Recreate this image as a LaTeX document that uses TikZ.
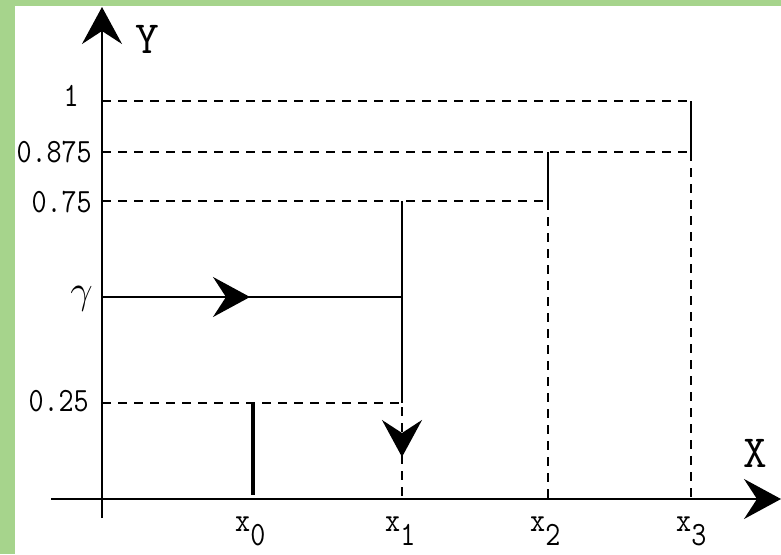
\documentclass[tikz,border=0pt]{standalone}
\usepackage{fontspec}
\newfontfamily\labfont[FakeStretch=0.86]{Latin Modern Mono}
\newfontfamily\axfont{Latin Modern Mono}
\usetikzlibrary{arrows.meta}
\definecolor{framegreen}{RGB}{166,212,140}
\begin{document}
\begin{tikzpicture}[x=1pt,y=-1pt,
  axisline/.style={line width=2pt},
  guide/.style={line width=2pt, dash pattern=on 9pt off 7pt},
  solidline/.style={line width=2pt},
  bigtip/.style={-{Stealth[length=37pt,width=40pt,inset=13pt]}},
  lab/.style={font=\labfont\fontsize{34}{34}\selectfont, inner sep=0pt},
  axlab/.style={font=\axfont\fontsize{46}{46}\selectfont, inner sep=0pt}]
\useasboundingbox (0,0) rectangle (781,554);
\fill[framegreen] (0,0) rectangle (781,554);
\fill[white] (15,6) rectangle (781,554);
% coordinates
\coordinate (Ytop) at (102,7);
\coordinate (Ybot) at (102,518);
\coordinate (Xl) at (51,499);
\coordinate (Xr) at (781,499);
\coordinate (L1) at (102,101);
\coordinate (L875) at (102,152);
\coordinate (L75) at (102,201);
\coordinate (Lg) at (102,297);
\coordinate (L25) at (102,403);
\coordinate (C3) at (691,101);
\coordinate (C3b) at (691,152);
\coordinate (X3) at (691,499);
\coordinate (C2) at (548,152);
\coordinate (C2b) at (548,201);
\coordinate (X2) at (548,499);
\coordinate (C1) at (402,201);
\coordinate (C1g) at (402,297);
\coordinate (C1b) at (402,403);
\coordinate (X1) at (402,499);
\coordinate (X0top) at (253,403);
\coordinate (X0) at (253,495);
\coordinate (Ag) at (250,297);
\coordinate (A1s) at (402,440);
\coordinate (A1) at (402,457);
% guides
\draw[guide] (L1) -- (C3);
\draw[solidline] (C3) -- (C3b);
\draw[guide] (C3b) -- (X3);
\draw[guide] (L875) -- (C3b);
\draw[solidline] (C2) -- (C2b);
\draw[guide] (C2b) -- (X2);
\draw[guide] (L75) -- (C2b);
\draw[solidline] (C1) -- (C1b);
\draw[guide] (L25) -- (C1b) -- (X1);
\draw[solidline] (Lg) -- (C1g);
\draw[solidline,bigtip] (Lg) -- (Ag);
\draw[solidline,bigtip] (A1s) -- (A1);
\draw[line width=4pt] (X0top) -- (X0);
% axes
\draw[axisline,bigtip] (Ybot) -- (Ytop);
\draw[axisline,bigtip] (Xl) -- (Xr);
% labels
\node[axlab, anchor=base west] (ylab) at (135,53) {Y};
\node[axlab, anchor=base west] (xlab) at (743,467) {X};
\node[lab, anchor=base east] (t1) at (79,106) {1};
\node[lab, anchor=base east] (t875) at (92,162) {0.875};
\node[lab, anchor=base east] (t75) at (92,212) {0.75};
\node[lab, anchor=base east] (tg) at (93,303) {\scalebox{1.6}{$\gamma$}};
\node[lab, anchor=base east] (t25) at (89,411) {0.25};
\node[lab, anchor=base west] (tx0) at (235,531) {x\raisebox{-14pt}{0}};
\node[lab, anchor=base west] (tx1) at (385,531) {x\raisebox{-14pt}{1}};
\node[lab, anchor=base west] (tx2) at (530,531) {x\raisebox{-14pt}{2}};
\node[lab, anchor=base west] (tx3) at (676,531) {x\raisebox{-14pt}{3}};
\end{tikzpicture}
\end{document}
